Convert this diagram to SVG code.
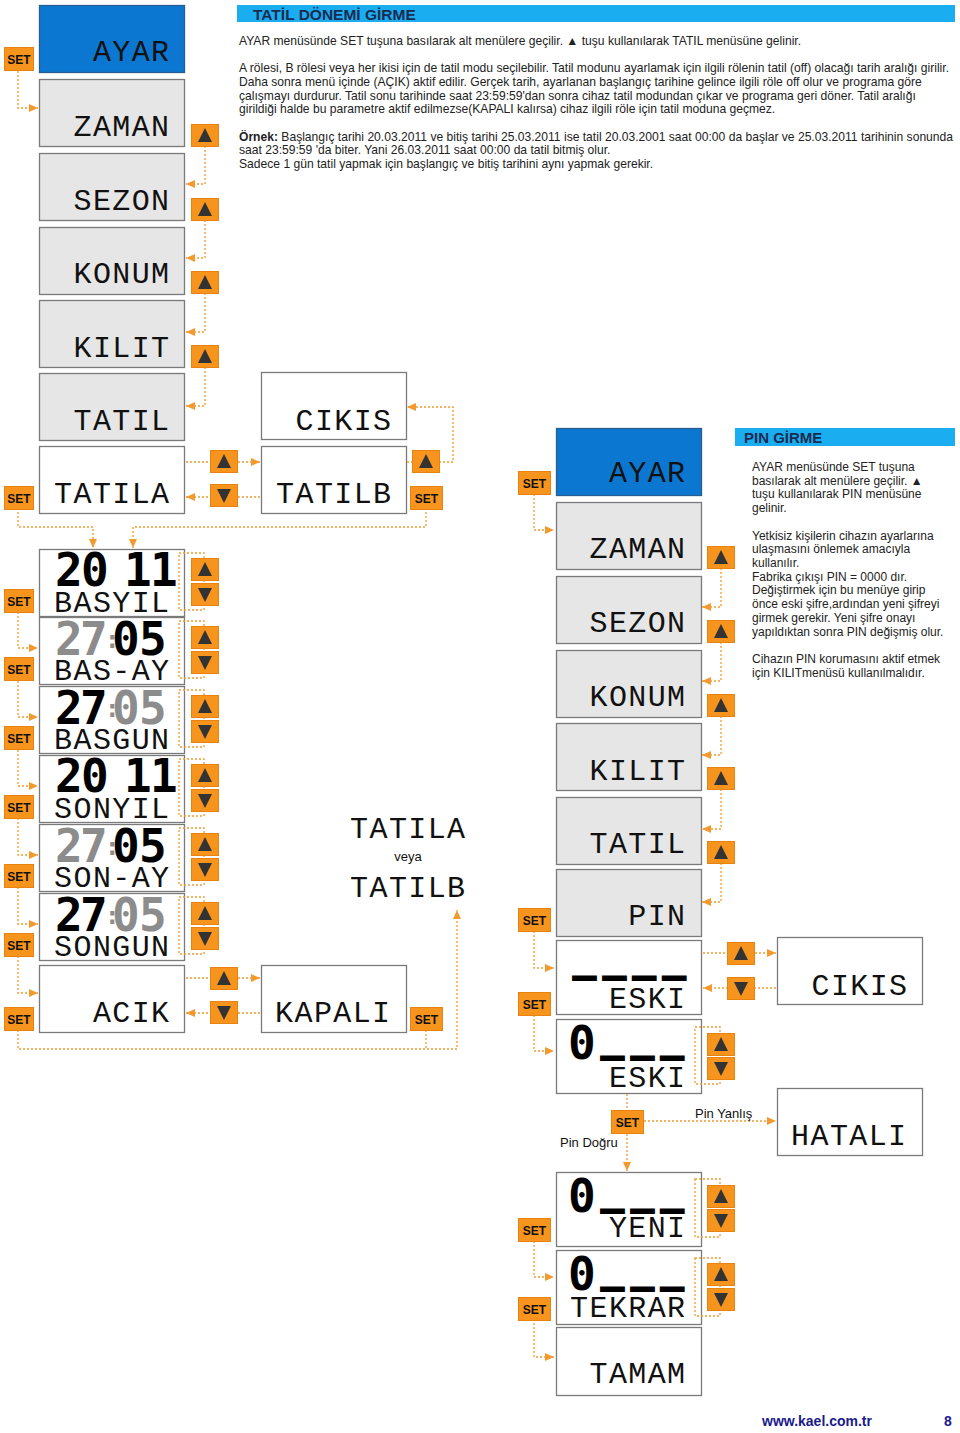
<svg xmlns="http://www.w3.org/2000/svg" xmlns:xlink="http://www.w3.org/1999/xlink" width="960" height="1433" viewBox="0 0 960 1433">
<style>
.box{fill:#fff;stroke:#7a7a7a;stroke-width:1.3}
.g{fill:#e6e6e6}
.blue{fill:#0b77d0;stroke:#2a5d8f}
.lcd{font-family:"Liberation Mono","DejaVu Sans Mono",monospace;font-size:30px;letter-spacing:1.4px;text-anchor:end;fill:#111}
.seg{font-family:"DejaVu Sans Mono",monospace;font-weight:bold;font-size:46px;fill:#000}
.gr{fill:#8c8c8c}
.col{font-size:24px;fill:#8c8c8c}
.us{font-size:38px;stroke:#000;stroke-width:2}
.btn{fill:#f7941d;stroke:#e8830f;stroke-width:1}
.btxt{font-family:"Liberation Sans",Arial,sans-serif;font-weight:bold;font-size:12px;text-anchor:middle;fill:#111}
.tri{fill:#333}
.con{fill:none;stroke:#f39a2e;stroke-width:1.3;stroke-dasharray:2 2}
.ar{marker-end:url(#ah)}
.body{font-family:"Liberation Sans",Arial,sans-serif;font-size:12.1px;fill:#222}
.pt{font-family:"Liberation Sans",Arial,sans-serif;font-size:12px;fill:#222}
.hd{fill:#1aaef0}
.ht{font-family:"Liberation Sans",Arial,sans-serif;font-weight:bold;fill:#1a2b50}
.lbl{font-family:"Liberation Sans",Arial,sans-serif;font-size:13px;fill:#111}
</style>
<defs>
<marker id="ah" markerUnits="userSpaceOnUse" markerWidth="9" markerHeight="8" refX="9" refY="4" orient="auto" viewBox="0 0 9 8"><path d="M0,0 L9,4 L0,8 z" fill="#f39a2e"/></marker>
<g id="up"><rect class="btn" x="0.5" y="0.5" width="27" height="22"/><polygon class="tri" points="14,4 21,18 7,18"/></g>
<g id="dn"><rect class="btn" x="0.5" y="0.5" width="27" height="22"/><polygon class="tri" points="7,5 21,5 14,19"/></g>
<g id="setl"><rect class="btn" x="0.5" y="0.5" width="29" height="23"/><text class="btxt" x="15" y="16.5">SET</text></g>
<g id="set"><rect class="btn" x="0.5" y="0.5" width="32" height="23"/><text class="btxt" x="16.5" y="16.5">SET</text></g>
</defs>
<rect width="960" height="1433" fill="#fff"/>

<!-- Header texts -->
<g id="text-tatil">
<rect class="hd" x="237" y="5" width="718" height="17"/>
<text class="ht" x="253" y="19.5" font-size="15.5">TATİL DÖNEMİ GİRME</text>
<text class="body" x="239" y="45">AYAR menüsünde SET tuşuna basılarak alt menülere geçilir.  ▲ tuşu kullanılarak TATIL menüsüne gelinir.</text>
<text class="body" x="239" y="72">A rölesi, B rölesi veya her ikisi için de tatil modu seçilebilir. Tatil modunu ayarlamak için ilgili rölenin tatil (off) olacağı tarih aralığı girilir.</text>
<text class="body" x="239" y="86">Daha sonra menü içinde (AÇIK) aktif edilir. Gerçek tarih, ayarlanan başlangıç tarihine gelince ilgili röle off olur ve programa göre</text>
<text class="body" x="239" y="99.5">çalışmayı durdurur. Tatil sonu tarihinde saat 23:59:59'dan sonra cihaz tatil modundan çıkar ve programa geri döner. Tatil aralığı</text>
<text class="body" x="239" y="113">girildiği halde bu parametre aktif edilmezse(KAPALI kalırsa) cihaz ilgili röle için tatil moduna geçmez.</text>
<text class="body" x="239" y="140.5"><tspan font-weight="bold">Örnek:</tspan> Başlangıç tarihi 20.03.2011 ve bitiş tarihi 25.03.2011 ise tatil 20.03.2001 saat 00:00 da başlar ve 25.03.2011 tarihinin sonunda</text>
<text class="body" x="239" y="154">saat 23:59:59 'da biter. Yani 26.03.2011 saat 00:00 da tatil bitmiş olur.</text>
<text class="body" x="239" y="167.5">Sadece 1 gün tatil yapmak için başlangıç ve bitiş tarihini aynı yapmak gerekir.</text>
</g>

<g id="text-pin">
<rect class="hd" x="735" y="428" width="220" height="18"/>
<text class="ht" x="744" y="443" font-size="15">PIN GİRME</text>
<text class="pt" x="752" y="471">AYAR menüsünde SET tuşuna</text>
<text class="pt" x="752" y="485">basılarak alt menülere geçilir.  ▲</text>
<text class="pt" x="752" y="498">tuşu kullanılarak PIN menüsüne</text>
<text class="pt" x="752" y="512">gelinir.</text>
<text class="pt" x="752" y="540">Yetkisiz kişilerin cihazın ayarlarına</text>
<text class="pt" x="752" y="553">ulaşmasını önlemek amacıyla</text>
<text class="pt" x="752" y="567">kullanılır.</text>
<text class="pt" x="752" y="581">Fabrika çıkışı PIN = 0000 dır.</text>
<text class="pt" x="752" y="594">Değiştirmek için bu menüye girip</text>
<text class="pt" x="752" y="608">önce eski şifre,ardından yeni şifreyi</text>
<text class="pt" x="752" y="622">girmek gerekir. Yeni şifre onayı</text>
<text class="pt" x="752" y="636">yapıldıktan sonra PIN değişmiş olur.</text>
<text class="pt" x="752" y="663">Cihazın PIN korumasını aktif etmek</text>
<text class="pt" x="752" y="677">için KILITmenüsü kullanılmalıdır.</text>
</g>

<!-- Left column nodes -->
<g id="n-ayar1"><rect class="box blue" x="39.5" y="5.5" width="145" height="67"/><text class="lcd" x="170.5" y="61">AYAR</text></g>
<g id="n-zaman1"><rect class="box g" x="39.5" y="79.5" width="145" height="67"/><text class="lcd" x="170.5" y="135.5">ZAMAN</text></g>
<g id="n-sezon1"><rect class="box g" x="39.5" y="153.5" width="145" height="67"/><text class="lcd" x="170.5" y="209.5">SEZON</text></g>
<g id="n-konum1"><rect class="box g" x="39.5" y="227.5" width="145" height="67"/><text class="lcd" x="170.5" y="283">KONUM</text></g>
<g id="n-kilit1"><rect class="box g" x="39.5" y="300.5" width="145" height="67"/><text class="lcd" x="170.5" y="357">KILIT</text></g>
<g id="n-tatil1"><rect class="box g" x="39.5" y="373.5" width="145" height="67"/><text class="lcd" x="170.5" y="430">TATIL</text></g>
<g id="n-tatila"><rect class="box" x="39.5" y="446.5" width="145" height="67"/><text class="lcd" x="170.5" y="503">TATILA</text></g>
<g id="n-cikis1"><rect class="box" x="261.5" y="372.5" width="145" height="67"/><text class="lcd" x="392.5" y="430">CIKIS</text></g>
<g id="n-tatilb"><rect class="box" x="261.5" y="446.5" width="145" height="67"/><text class="lcd" x="392.5" y="503">TATILB</text></g>

<g id="n-basyil"><rect class="box" x="39.5" y="549.5" width="145" height="67"/>
<text class="seg" x="55" y="586">2<tspan x="81">0</tspan><tspan x="124">1</tspan><tspan x="150">1</tspan></text>
<text class="lcd" x="170.5" y="612">BASYIL</text></g>
<g id="n-basay"><rect class="box" x="39.5" y="617.5" width="145" height="67"/>
<text class="seg" x="55" y="655"><tspan class="gr">2</tspan><tspan class="gr" x="80">7</tspan><tspan class="col" x="105" y="648">:</tspan><tspan x="112" y="655">0</tspan><tspan x="139">5</tspan></text>
<text class="lcd" x="170.5" y="680">BAS-AY</text></g>
<g id="n-basgun"><rect class="box" x="39.5" y="686.5" width="145" height="67"/>
<text class="seg" x="55" y="724">2<tspan x="80">7</tspan><tspan class="col" x="105" y="717">:</tspan><tspan class="gr" x="112" y="724">0</tspan><tspan class="gr" x="139">5</tspan></text>
<text class="lcd" x="170.5" y="749">BASGUN</text></g>
<g id="n-sonyil"><rect class="box" x="39.5" y="755.5" width="145" height="67"/>
<text class="seg" x="55" y="792">2<tspan x="81">0</tspan><tspan x="124">1</tspan><tspan x="150">1</tspan></text>
<text class="lcd" x="170.5" y="818">SONYIL</text></g>
<g id="n-sonay"><rect class="box" x="39.5" y="824.5" width="145" height="67"/>
<text class="seg" x="55" y="862"><tspan class="gr">2</tspan><tspan class="gr" x="80">7</tspan><tspan class="col" x="105" y="855">:</tspan><tspan x="112" y="862">0</tspan><tspan x="139">5</tspan></text>
<text class="lcd" x="170.5" y="887">SON-AY</text></g>
<g id="n-songun"><rect class="box" x="39.5" y="893.5" width="145" height="67"/>
<text class="seg" x="55" y="931">2<tspan x="80">7</tspan><tspan class="col" x="105" y="924">:</tspan><tspan class="gr" x="112" y="931">0</tspan><tspan class="gr" x="139">5</tspan></text>
<text class="lcd" x="170.5" y="956">SONGUN</text></g>
<g id="n-acik"><rect class="box" x="39.5" y="965.5" width="145" height="67"/><text class="lcd" x="170.5" y="1022">ACIK</text></g>
<g id="n-kapali"><rect class="box" x="261.5" y="965.5" width="145" height="67"/><text class="lcd" x="391.5" y="1022">KAPALI</text></g>
<g id="n-result">
<text class="lcd" x="466.5" y="838">TATILA</text>
<text class="lbl" x="408" y="861" text-anchor="middle">veya</text>
<text class="lcd" x="466.5" y="897">TATILB</text>
</g>

<!-- PIN column nodes -->
<g id="n-ayar2"><rect class="box blue" x="556.5" y="428.5" width="145" height="67"/><text class="lcd" x="686.5" y="482">AYAR</text></g>
<g id="n-zaman2"><rect class="box g" x="556.5" y="502.5" width="145" height="67"/><text class="lcd" x="686.5" y="558">ZAMAN</text></g>
<g id="n-sezon2"><rect class="box g" x="556.5" y="576.5" width="145" height="67"/><text class="lcd" x="686.5" y="632">SEZON</text></g>
<g id="n-konum2"><rect class="box g" x="556.5" y="650.5" width="145" height="67"/><text class="lcd" x="686.5" y="706">KONUM</text></g>
<g id="n-kilit2"><rect class="box g" x="556.5" y="723.5" width="145" height="67"/><text class="lcd" x="686.5" y="780">KILIT</text></g>
<g id="n-tatil2"><rect class="box g" x="556.5" y="797.5" width="145" height="67"/><text class="lcd" x="686.5" y="853">TATIL</text></g>
<g id="n-pin"><rect class="box g" x="556.5" y="869.5" width="145" height="67"/><text class="lcd" x="686.5" y="925">PIN</text></g>
<g id="n-eski1"><rect class="box" x="556.5" y="940.5" width="145" height="74"/>
<text class="seg us" x="573" y="971" letter-spacing="7">____</text>
<text class="lcd" x="686.5" y="1008">ESKI</text></g>
<g id="n-eski2"><rect class="box" x="556.5" y="1019.5" width="145" height="74"/>
<text class="seg" x="568" y="1059">0<tspan class="us" x="601" y="1051" letter-spacing="7">___</tspan></text>
<text class="lcd" x="686.5" y="1087">ESKI</text></g>
<g id="n-yeni"><rect class="box" x="556.5" y="1172.5" width="145" height="74"/>
<text class="seg" x="568" y="1212">0<tspan class="us" x="601" y="1204" letter-spacing="7">___</tspan></text>
<text class="lcd" x="686.5" y="1237">YENI</text></g>
<g id="n-tekrar"><rect class="box" x="556.5" y="1250.5" width="145" height="74"/>
<text class="seg" x="568" y="1290">0<tspan class="us" x="601" y="1282" letter-spacing="7">___</tspan></text>
<text class="lcd" x="686.5" y="1317">TEKRAR</text></g>
<g id="n-tamam"><rect class="box" x="556.5" y="1327.5" width="145" height="68"/><text class="lcd" x="686.5" y="1383">TAMAM</text></g>
<g id="n-cikis2"><rect class="box" x="777.5" y="937.5" width="145" height="67"/><text class="lcd" x="908.5" y="995">CIKIS</text></g>
<g id="n-hatali"><rect class="box" x="777.5" y="1088.5" width="145" height="67"/><text class="lcd" x="907.5" y="1145">HATALI</text></g>

<!-- Connectors -->
<g id="connectors">
<path class="con ar" d="M18,71 V108 H38"/>
<path class="con ar" d="M205,146 V184 H186"/>
<path class="con ar" d="M205,220 V258 H186"/>
<path class="con ar" d="M205,293 V332 H186"/>
<path class="con ar" d="M205,367 V406 H186"/>
<path class="con ar" d="M186,462 H260"/>
<path class="con ar" d="M260,497 H186"/>
<path class="con ar" d="M407,462 H453 V407 H407"/>
<path class="con ar" d="M18,508 V527 H93 V548"/>
<path class="con ar" d="M426,508 V527 H133 V548"/>
<path class="con ar" d="M18,612 V648 H38"/>
<path class="con ar" d="M18,681 V717 H38"/>
<path class="con ar" d="M18,750 V786 H38"/>
<path class="con ar" d="M18,818 V855 H38"/>
<path class="con ar" d="M18,887 V924 H38"/>
<path class="con ar" d="M18,956 V993 H38"/>
<rect class="con" x="179" y="553" width="25" height="57"/>
<rect class="con" x="179" y="621" width="25" height="57"/>
<rect class="con" x="179" y="690" width="25" height="57"/>
<rect class="con" x="179" y="759" width="25" height="57"/>
<rect class="con" x="179" y="828" width="25" height="57"/>
<rect class="con" x="179" y="897" width="25" height="57"/>
<path class="con ar" d="M186,978 H260"/>
<path class="con ar" d="M260,1013 H186"/>
<path class="con ar" d="M18,1030 V1049 H457 V910"/>
<path class="con" d="M426,1030 V1049"/>
<path class="con ar" d="M534,494 V530 H554"/>
<path class="con ar" d="M721,568 V607 H702"/>
<path class="con ar" d="M721,642 V681 H702"/>
<path class="con ar" d="M721,716 V755 H702"/>
<path class="con ar" d="M721,789 V829 H702"/>
<path class="con ar" d="M721,863 V902 H702"/>
<path class="con ar" d="M534,931 V968 H554"/>
<path class="con ar" d="M534,1015 V1051 H554"/>
<path class="con ar" d="M703,953 H776"/>
<path class="con ar" d="M776,988 H703"/>
<rect class="con" x="695" y="1027" width="25" height="57"/>
<path class="con ar" d="M627,1094 V1171"/>
<path class="con ar" d="M644,1121 H776"/>
<rect class="con" x="695" y="1179" width="25" height="58"/>
<rect class="con" x="695" y="1258" width="25" height="58"/>
<path class="con ar" d="M534,1241 V1277 H554"/>
<path class="con ar" d="M534,1319 V1357 H554"/>
<text class="lbl" x="695" y="1118">Pin Yanlış</text>
<text class="lbl" x="560" y="1147">Pin Doğru</text>
</g>

<!-- Buttons -->
<g id="buttons">
<use xlink:href="#setl" x="4" y="47"/>
<use xlink:href="#up" x="191" y="124"/>
<use xlink:href="#up" x="191" y="198"/>
<use xlink:href="#up" x="191" y="271"/>
<use xlink:href="#up" x="191" y="345"/>
<use xlink:href="#up" x="210" y="450"/>
<use xlink:href="#dn" x="210" y="484"/>
<use xlink:href="#up" x="412" y="450"/>
<use xlink:href="#setl" x="4" y="486"/>
<use xlink:href="#set" x="410" y="486"/>
<use xlink:href="#setl" x="4" y="589"/>
<use xlink:href="#setl" x="4" y="657"/>
<use xlink:href="#setl" x="4" y="726"/>
<use xlink:href="#setl" x="4" y="795"/>
<use xlink:href="#setl" x="4" y="864"/>
<use xlink:href="#setl" x="4" y="933"/>
<use xlink:href="#up" x="191" y="558"/><use xlink:href="#dn" x="191" y="583"/>
<use xlink:href="#up" x="191" y="626"/><use xlink:href="#dn" x="191" y="651"/>
<use xlink:href="#up" x="191" y="695"/><use xlink:href="#dn" x="191" y="720"/>
<use xlink:href="#up" x="191" y="764"/><use xlink:href="#dn" x="191" y="789"/>
<use xlink:href="#up" x="191" y="833"/><use xlink:href="#dn" x="191" y="858"/>
<use xlink:href="#up" x="191" y="902"/><use xlink:href="#dn" x="191" y="927"/>
<use xlink:href="#up" x="210" y="967"/>
<use xlink:href="#dn" x="210" y="1001"/>
<use xlink:href="#setl" x="4" y="1007"/>
<use xlink:href="#set" x="410" y="1007"/>
<use xlink:href="#set" x="518" y="471"/>
<use xlink:href="#up" x="707" y="546"/>
<use xlink:href="#up" x="707" y="620"/>
<use xlink:href="#up" x="707" y="694"/>
<use xlink:href="#up" x="707" y="767"/>
<use xlink:href="#up" x="707" y="841"/>
<use xlink:href="#set" x="518" y="908"/>
<use xlink:href="#set" x="518" y="992"/>
<use xlink:href="#up" x="727" y="942"/>
<use xlink:href="#dn" x="727" y="977"/>
<use xlink:href="#up" x="707" y="1033"/><use xlink:href="#dn" x="707" y="1057"/>
<use xlink:href="#set" x="611" y="1110"/>
<use xlink:href="#up" x="707" y="1185"/><use xlink:href="#dn" x="707" y="1209"/>
<use xlink:href="#set" x="518" y="1218"/>
<use xlink:href="#up" x="707" y="1263"/><use xlink:href="#dn" x="707" y="1288"/>
<use xlink:href="#set" x="518" y="1297"/>
</g>

<g id="footer">
<text x="762" y="1426" font-family="Liberation Sans, Arial, sans-serif" font-weight="bold" font-size="14" fill="#1a1a8c">www.kael.com.tr</text>
<text x="944" y="1426" font-family="Liberation Sans, Arial, sans-serif" font-weight="bold" font-size="14" fill="#1a1a8c">8</text>
</g>
</svg>
